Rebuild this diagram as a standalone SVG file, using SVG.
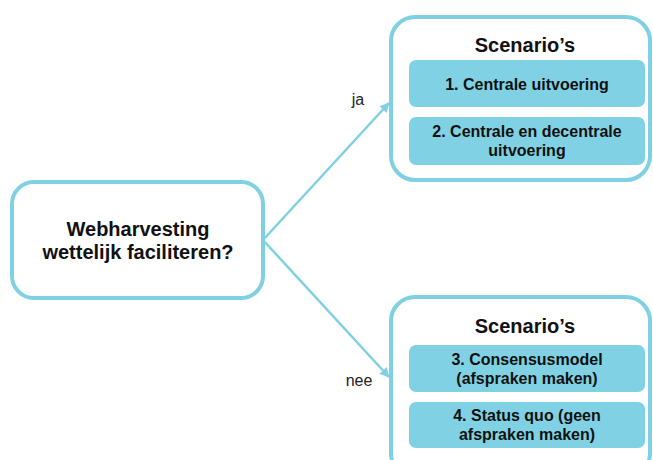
<svg xmlns="http://www.w3.org/2000/svg" width="653" height="460" viewBox="0 0 653 460">
<style>
.outer{fill:#fff;stroke:#7FD0E2;stroke-width:4}
.inner{fill:#80D1E3;stroke:none}
.t{font-family:"Liberation Sans",Arial,sans-serif;font-weight:bold;fill:#111;text-anchor:middle}
.lbl{font-family:"Liberation Sans",Arial,sans-serif;font-size:16px;fill:#222;text-anchor:middle}
.conn{stroke:#7FD0E2;stroke-width:2.5;fill:none}
</style>
<defs>
<marker id="ah" viewBox="0 0 10 10" refX="9" refY="5" markerWidth="4" markerHeight="4" orient="auto" markerUnits="strokeWidth">
<path d="M0,0 L10,5 L0,10 z" fill="#7FD0E2"/>
</marker>
</defs>
<rect width="653" height="460" fill="#fff"/>
<g id="connectors">
<line class="conn" x1="263" y1="240" x2="389" y2="103" marker-end="url(#ah)"/>
<line class="conn" x1="263" y1="240" x2="389" y2="377" marker-end="url(#ah)"/>
<text class="lbl" x="358" y="105">ja</text>
<text class="lbl" x="359" y="386">nee</text>
</g>
<g id="question">
<rect class="outer" x="12" y="182" width="251" height="116" rx="22"/>
<text class="t" x="138" y="236" font-size="20">Webharvesting</text>
<text class="t" x="138" y="259" font-size="20">wettelijk faciliteren?</text>
</g>
<g id="scenarios-ja">
<rect class="outer" x="391" y="17" width="259" height="163" rx="24"/>
<text class="t" x="525" y="52" font-size="20">Scenario’s</text>
</g>
<g id="s1">
<rect class="inner" x="409" y="60" width="236" height="47" rx="7"/>
<text class="t" x="527" y="90" font-size="16">1. Centrale uitvoering</text>
</g>
<g id="s2">
<rect class="inner" x="409" y="117" width="236" height="48" rx="7"/>
<text class="t" x="527" y="137" font-size="16">2. Centrale en decentrale</text>
<text class="t" x="527" y="156" font-size="16">uitvoering</text>
</g>
<g id="scenarios-nee">
<rect class="outer" x="391" y="297" width="259" height="180" rx="24"/>
<text class="t" x="525" y="333" font-size="20">Scenario’s</text>
</g>
<g id="s3">
<rect class="inner" x="409" y="345" width="236" height="47" rx="7"/>
<text class="t" x="527" y="365" font-size="16">3. Consensusmodel</text>
<text class="t" x="527" y="384" font-size="16">(afspraken maken)</text>
</g>
<g id="s4">
<rect class="inner" x="409" y="402" width="236" height="46" rx="7"/>
<text class="t" x="527" y="421" font-size="16">4. Status quo (geen</text>
<text class="t" x="527" y="440" font-size="16">afspraken maken)</text>
</g>
</svg>
